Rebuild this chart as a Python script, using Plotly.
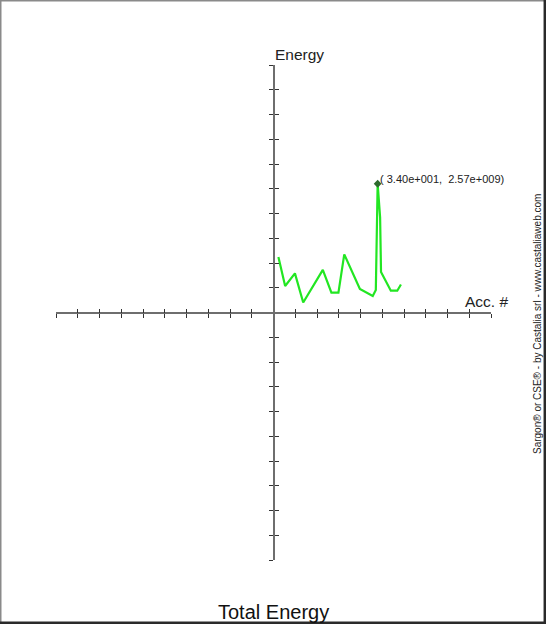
import plotly.graph_objects as go

# ---- data ----
acc_no = [1.6, 3.8, 7.0, 9.7, 16.1, 18.9, 21.2, 23.1, 28.2, 32.4, 33.4, 33.6, 33.7,
          34.0, 34.8, 35.1, 38.3, 40.4, 41.6]
energy = [1.11e9, 5.3e8, 7.8e8, 2.0e8, 8.5e8, 3.95e8, 3.95e8, 1.16e9, 4.7e8, 3.3e8,
          4.5e8, 1.13e9, 1.85e9, 2.57e9, 1.9e9, 8.1e8, 4.35e8, 4.35e8, 5.6e8]
peak_x = [34.0]
peak_y = [2.57e9]

x_step = 7.1
y_step = 4.94e8
n_ticks = 10
x_ticks = [i * x_step for i in range(-n_ticks, n_ticks + 1) if i != 0]
y_ticks = [i * y_step for i in range(-n_ticks, n_ticks + 1) if i != 0]
x_range = [-n_ticks * x_step, n_ticks * x_step]
y_range = [-n_ticks * y_step, n_ticks * y_step]

title_text = "Total Energy"
x_title = "Acc. #"
y_title = "Energy"
credit = "Sargon® or CSE® - by Castalia srl - www.castaliaweb.com"


def fmt(v):
    m, e = f"{v:.2e}".split("e")
    sign = e[0]
    return f"{m}e{sign}{int(e[1:]):03d}"


peak_label = f"( {fmt(peak_x[0])},  {fmt(peak_y[0])})"

W, H = 546, 624
ML, MR, MT, MB = 56, 55, 65, 64
PW, PH = W - ML - MR, H - MT - MB


def px(p):
    return (p - ML) / PW


def py(q):
    return (H - MB - q) / PH


FONT = "Liberation Sans, Arial, sans-serif"

fig = go.Figure()
fig.add_trace(go.Scatter(x=acc_no, y=energy, mode="lines",
                         line=dict(color="#22E622", width=2.2), hoverinfo="skip"))
fig.add_trace(go.Scatter(x=peak_x, y=peak_y, mode="markers",
                         marker=dict(symbol="diamond", size=6, color="#2E6B2E"),
                         hoverinfo="skip"))

axis_common = dict(showgrid=False, zeroline=False, showticklabels=False,
                   tickmode="array", anchor="free", position=0.5,
                   tickcolor="#333333", tickwidth=1, ticklen=4)

fig.update_layout(
    width=W, height=H,
    margin=dict(l=ML, r=MR, t=MT, b=MB, pad=0),
    paper_bgcolor="white", plot_bgcolor="white",
    showlegend=False,
    xaxis=dict(range=x_range, tickvals=x_ticks, ticks="outside",
               showline=True, linecolor="#6E6E6E", linewidth=2, **axis_common),
    yaxis=dict(range=y_range, tickvals=y_ticks, ticks="outside",
               showline=True, linecolor="#6E6E6E", linewidth=2, **axis_common),
    xaxis2=dict(range=x_range, tickvals=x_ticks, ticks="inside", overlaying="x",
                showline=False, **axis_common),
    yaxis2=dict(range=y_range, tickvals=y_ticks, ticks="inside", overlaying="y",
                showline=False, **axis_common),
)
# invisible trace so the overlay axes are drawn
fig.add_trace(go.Scatter(x=[x_range[0]], y=[y_range[0]], xaxis="x2", yaxis="y2",
                         mode="markers", marker=dict(opacity=0), hoverinfo="skip"))

annotations = [
    dict(x=peak_x[0], y=peak_y[0], xref="x", yref="y", text=peak_label,
         showarrow=False, xanchor="left", yanchor="middle", xshift=0, yshift=5,
         font=dict(family=FONT, size=11, color="#222222")),
    dict(x=px(273), y=py(54.5), xref="paper", yref="paper", text=y_title,
         showarrow=False, xanchor="left", yanchor="middle",
         font=dict(family=FONT, size=15.5, color="#222222")),
    dict(x=px(463), y=py(301.5), xref="paper", yref="paper", text=x_title,
         showarrow=False, xanchor="left", yanchor="middle",
         font=dict(family=FONT, size=15.5, color="#222222")),
    dict(x=px(273), y=py(612), xref="paper", yref="paper", text=title_text,
         showarrow=False, xanchor="center", yanchor="middle",
         font=dict(family=FONT, size=20, color="#111111")),
    dict(x=px(537), y=py(192), xref="paper", yref="paper", text=credit,
         showarrow=False, xanchor="center", yanchor="top", textangle=-90,
         font=dict(family=FONT, size=10, color="#222222")),
]
fig.update_layout(annotations=annotations)

shapes = [
    dict(type="line", xref="paper", yref="paper", x0=px(0), x1=px(W), y0=py(0.75), y1=py(0.75),
         line=dict(color="#8A8A8A", width=1.5)),
    dict(type="line", xref="paper", yref="paper", x0=px(0.75), x1=px(0.75), y0=py(0), y1=py(H),
         line=dict(color="#8A8A8A", width=1.5)),
    dict(type="line", xref="paper", yref="paper", x0=px(544.8), x1=px(544.8), y0=py(0), y1=py(H),
         line=dict(color="#2A2A2A", width=2.5)),
    dict(type="line", xref="paper", yref="paper", x0=px(0), x1=px(W), y0=py(622.8), y1=py(622.8),
         line=dict(color="#2A2A2A", width=2.5)),
]
fig.update_layout(shapes=shapes)

fig.write_html(
    "out.html",
    config={"displayModeBar": False},
    post_script="document.body.style.margin='0';document.body.style.overflow='hidden';",
)
